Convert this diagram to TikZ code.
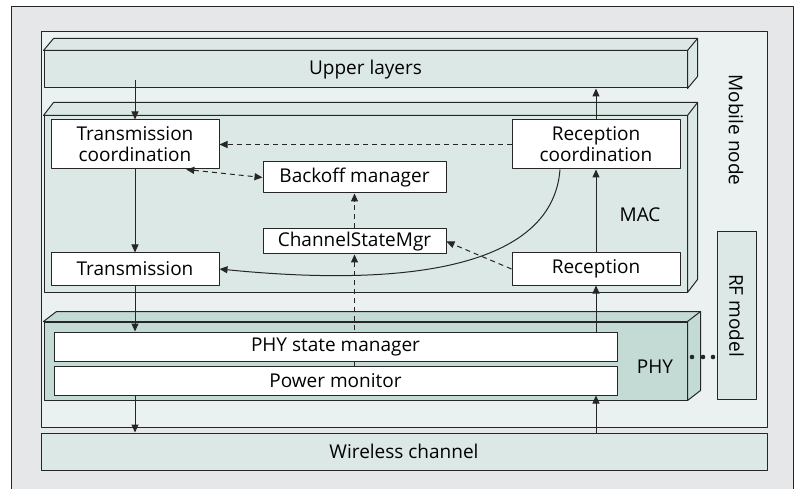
\documentclass[tikz,border=0pt]{standalone}
\usepackage{fontspec}
\setmainfont{Open Sans}
\usetikzlibrary{calc}
\usetikzlibrary{positioning}
\usetikzlibrary{arrows.meta}

\definecolor{framegray}{HTML}{E6E7E8}
\definecolor{nodefill}{HTML}{EAF1F0}
\definecolor{layerfill}{HTML}{DCE8E5}
\definecolor{phyfill}{HTML}{C3DAD5}
\definecolor{linegray}{HTML}{262626}

\begin{document}
\begin{tikzpicture}[x=1pt, y=-1pt, line width=1pt, line join=round, draw=linegray,
  >={Triangle[length=8pt,width=7pt]},
  font=\fontsize{19}{21}\selectfont,
  layer/.style={draw=linegray, fill=layerfill, inner sep=0pt},
  block/.style={draw=linegray, fill=white, inner sep=0pt, align=center},
  dasharrow/.style={->, dash pattern=on 5pt off 4pt}]
  \useasboundingbox (0,0) rectangle (798,489);
  \draw[fill=framegray] (11,7) rectangle (793,495);
  \draw[fill=nodefill] (41,32) rectangle (767,427);
  \node[rotate=-90] (mobile) at (736,130) {Mobile node};

  % layers with a 3D look
  \node[layer, minimum width=643, minimum height=37] (upper) at (365.5,69.5) {Upper layers};
  \node[layer, minimum width=643, minimum height=176] (mac) at (365.5,204) {};
  \node[layer, fill=phyfill, minimum width=643, minimum height=78] (phy) at (365.5,361) {};
  \foreach \n/\dx/\dy/\c in {upper/10/12/layerfill, mac/10/13/layerfill, phy/13/10/phyfill} {
    \draw[fill=\c] (\n.north west) -- ++(\dx,-\dy) -- ($(\n.north east)+(\dx,-\dy)$)
      -- ($(\n.south east)+(\dx,-\dy)$) -- (\n.south east) -- (\n.north east) -- cycle;
    \draw (\n.north east) -- ++(\dx,-\dy);
  }
  \node[layer, minimum width=726, minimum height=37] (wireless) at (404,451.5) {Wireless channel};
  \node[layer, rotate=-90, minimum width=167, minimum height=39] (rf) at (736.5,315.5) {RF model};
  \foreach \x in {692,703,713} \fill[linegray] (\x,357) circle (2.3);

  \node (maclabel) at (640,215) {MAC};
  \node (phylabel) at (655,367) {PHY};

  % MAC blocks
  \node[block, minimum width=168, minimum height=49] (txc) at (135,144.5) {Transmission\\coordination};
  \node[block, minimum width=168, minimum height=49] (rxc) at (596,144.5) {Reception\\coordination};
  \node[block, minimum width=183, minimum height=31] (backoff) at (354.5,177.5) {Backoff manager};
  \node[block, minimum width=183, minimum height=25] (csm) at (354.5,241.5) {ChannelStateMgr};
  \node[block, minimum width=168, minimum height=32] (tx) at (135,269) {Transmission};
  \node[block, minimum width=168, minimum height=32] (rx) at (596,269) {Reception};

  % PHY blocks
  \node[block, minimum width=563, minimum height=29] (power) at (335.5,380.5) {Power monitor};
  \draw[dasharrow] (csm |- power.north) -- (csm);
  \node[block, minimum width=563, minimum height=29] (phystate) at (335.5,346.5) {PHY state manager};

  % data path
  \draw[->] ($(upper.south -| txc.north)+(0,-8)$) -- (txc);
  \draw[->] (txc) -- (tx);
  \draw[->] (tx) -- (tx |- phystate.north);
  \draw[->] (tx |- power.south) -- (tx |- wireless.north);
  \draw[->] (rx |- wireless.north) -- (rx |- power.south);
  \draw[->] (rx |- phystate.north) -- (rx);
  \draw[->] (rx) -- (rxc);
  \draw[->] (rxc) -- (rxc |- upper.south);
  \draw[->] ($(rxc.south)+(-36,0)$) .. controls +(-7,93) and +(201,20) .. (tx.east);

  % control path
  \draw[dasharrow] (rxc) -- (txc);
  \draw[dasharrow, <->] (txc.-26) -- (backoff.west);
  \draw[dasharrow] (csm) -- (backoff);
  \draw[dasharrow] (rx.west) -- (csm.east);
\end{tikzpicture}
\end{document}
